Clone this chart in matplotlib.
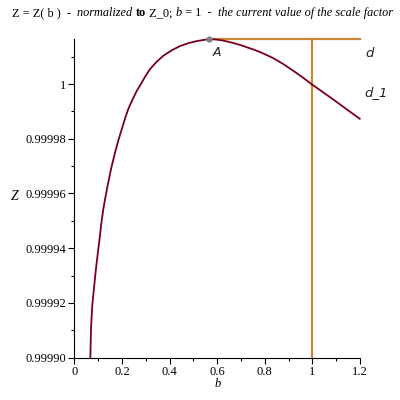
import matplotlib
matplotlib.use('Agg')
import matplotlib.pyplot as plt
from matplotlib.ticker import MultipleLocator

# Z(b), normalized to Z_0
b = [0.067, 0.070, 0.075, 0.083, 0.090, 0.097, 0.105, 0.113, 0.121, 0.129, 0.140,
     0.154, 0.171, 0.185, 0.199, 0.213, 0.227, 0.245, 0.262, 0.276, 0.297, 0.318,
     0.345, 0.373, 0.408, 0.444, 0.480, 0.514, 0.540, 0.567, 0.595, 0.625, 0.650,
     0.672, 0.700, 0.723, 0.750, 0.780, 0.808, 0.835, 0.878, 0.919, 0.958, 0.996,
     1.040, 1.087, 1.142, 1.199]
z = [0.999900, 0.999911, 0.999919, 0.999926, 0.999932, 0.9999372, 0.9999428,
     0.999949, 0.999954, 0.999958, 0.999963, 0.999969, 0.999975, 0.9999795,
     0.9999835, 0.9999875, 0.999991, 0.9999945, 0.9999975, 0.9999995, 1.0000027,
     1.0000055, 1.0000081, 1.0000103, 1.0000123, 1.0000139, 1.0000150, 1.0000157,
     1.0000161, 1.0000164, 1.0000163, 1.0000159, 1.0000154, 1.0000149, 1.0000142,
     1.0000135, 1.0000127, 1.0000117, 1.0000106, 1.0000095, 1.0000073, 1.0000049,
     1.0000025, 1.0000000, 0.9999973, 0.9999944, 0.9999909, 0.9999873]

b_peak = 0.567
z_peak = 1.0000164
b_cur = 1.0

yticks = [0.9999, 0.99992, 0.99994, 0.99996, 0.99998, 1.0]
ylabels = ['0.99990', '0.99992', '0.99994', '0.99996', '0.99998', '1']
xticks = [0, 0.2, 0.4, 0.6, 0.8, 1.0, 1.2]
xlabels = ['0', '0.2', '0.4', '0.6', '0.8', '1', '1.2']

serif = 'Liberation Serif'

fig = plt.figure(figsize=(4, 4), dpi=100)
ax = fig.add_axes([0.186, 0.106, 0.714, 0.796])

ax.plot(b, z, color='#78001e', lw=1.3, zorder=3, clip_on=False)
ax.plot([b_peak, 1.2], [z_peak, z_peak], color='#c8873a', lw=1.6, zorder=2,
        clip_on=False)
ax.plot([b_cur, b_cur], [0.9999, z_peak], color='#c8873a', lw=1.6, zorder=2,
        clip_on=False)
ax.plot([b_peak], [z_peak], 'o', color='#808080', ms=3.5, zorder=4, clip_on=False)

ax.set_xlim(0, 1.2)
ax.set_ylim(0.9999, z_peak)
ax.spines['top'].set_visible(False)
ax.spines['right'].set_visible(False)
ax.set_xticks(xticks, xlabels, fontfamily=serif, fontsize=9)
ax.set_yticks(yticks, ylabels, fontfamily=serif, fontsize=9)
ax.xaxis.set_minor_locator(MultipleLocator(0.1))
ax.yaxis.set_minor_locator(MultipleLocator(0.00001))
ax.tick_params(which='major', length=4, width=0.8, pad=2)
ax.tick_params(which='minor', length=2, width=0.8)

ax.set_xlabel('b', fontfamily=serif, fontstyle='italic', fontsize=9, labelpad=0)
fig.text(0.036, 0.51, 'Z', fontfamily=serif, fontstyle='italic', fontsize=10,
         ha='center', va='center')

ax.text(0.6, 1.0000139, 'A', fontfamily='DejaVu Sans', fontstyle='italic',
        fontsize=9, ha='center', va='top', color='#222222')
fig.text(0.923, 0.866, 'd', fontfamily='DejaVu Sans', fontstyle='italic',
         fontsize=9.5, ha='center', va='center', color='#222222')
fig.text(0.94, 0.768, 'd_1', fontfamily='DejaVu Sans', fontstyle='italic',
         fontsize=9.5, ha='center', va='center', color='#222222')

# title pieces in different styles, laid one after another
pieces = [('Z = Z( b )  -  ', 'normal', 'normal'),
          ('normalized ', 'italic', 'normal'),
          ('to', 'normal', 'bold'),
          (' Z_0; ', 'normal', 'normal'),
          ('b', 'italic', 'normal'),
          (' = 1  -  ', 'normal', 'normal'),
          ('the current value of the scale factor', 'italic', 'normal')]
fig.canvas.draw()
renderer = fig.canvas.get_renderer()
x = 0.03
for s, style, weight in pieces:
    t = fig.text(x, 0.968, s, fontfamily=serif, fontstyle=style, fontweight=weight,
                 fontsize=8.85, ha='left', va='center')
    bb = t.get_window_extent(renderer)
    x += bb.width / fig.bbox.width

fig.savefig('out.png', dpi=100)
